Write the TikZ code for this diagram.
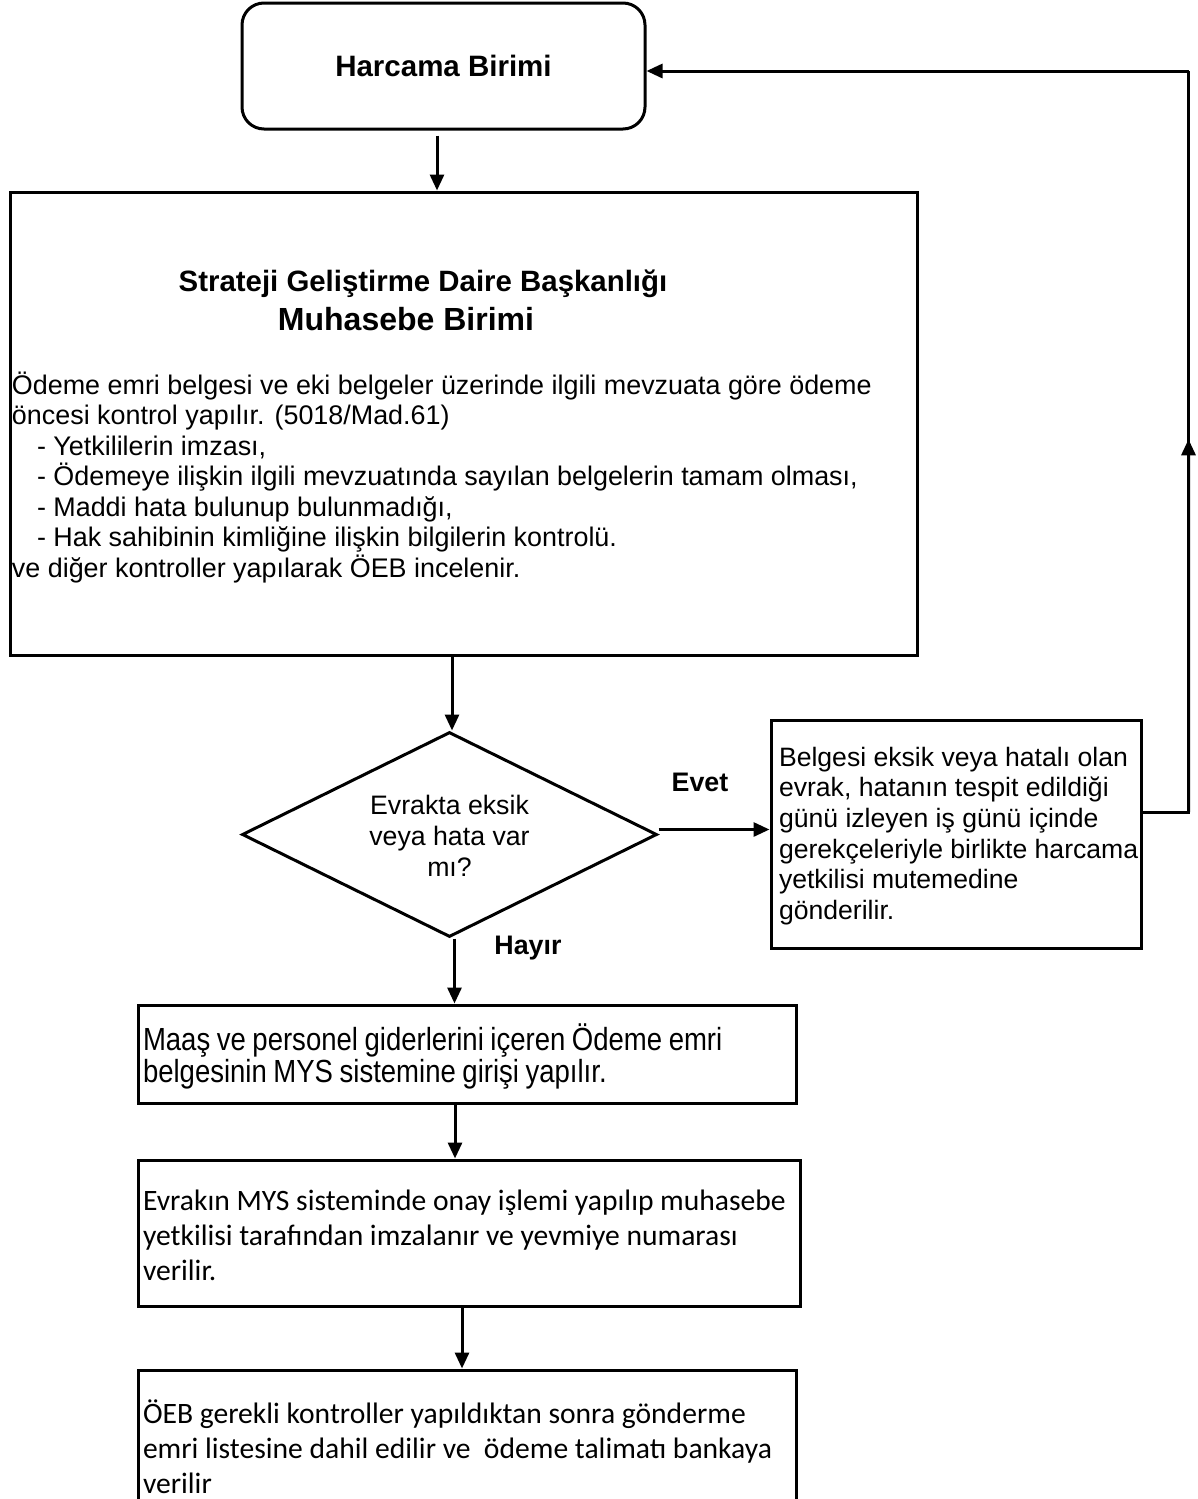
\documentclass[tikz,border=0pt]{standalone}
\usepackage{fontspec}
\setmainfont{Liberation Sans}
\newfontfamily\calibrifont{Carlito}
\newfontfamily\narrowfont{Liberation Sans}[FakeStretch=0.86, WordSpace=0.86]
\usetikzlibrary{shapes.geometric,arrows.meta,calc}
\begin{document}
\begin{tikzpicture}[x=1pt,y=-1pt,
  line width=3pt,
  arr/.style={-{Triangle[length=16pt,width=14pt]}},
  box/.style={draw, rectangle, inner sep=0pt},
  txt/.style={inner sep=0pt, anchor=west, align=left},
  bodyfont/.style={font=\fontsize{26.9}{30.5}\selectfont},
  calfont/.style={font=\calibrifont\fontsize{29.6}{35}\selectfont},
  lbl/.style={font=\bfseries\fontsize{26.8}{30}\selectfont, inner sep=0pt}
]
\useasboundingbox (0,0) rectangle (1197,1499);
\clip (0,0) rectangle (1197,1499);

% Harcama Birimi
\node[draw, rounded corners=22pt, minimum width=403pt, minimum height=126pt,
      font=\bfseries\fontsize{29.5}{34}\selectfont] (harc) at (443.5,66) {Harcama Birimi};

% main box
\node[box, minimum width=907pt, minimum height=463pt] (main) at (463.5,423.5) {};
\node[inner sep=0pt, font=\bfseries\fontsize{29.4}{34}\selectfont] (t1) at (423,284) {Strateji Geliştirme Daire Başkanlığı};
\node[inner sep=0pt, font=\bfseries\fontsize{32}{36}\selectfont] (t2) at (406,319) {Muhasebe Birimi};
\node[txt, bodyfont] (body) at ([xshift=2pt,yshift=-54pt]main.west) {%
Ödeme emri belgesi ve eki belgeler üzerinde ilgili mevzuata göre ödeme\\
öncesi kontrol yapılır. (5018/Mad.61)\\
\hspace*{25pt}- Yetkililerin imzası,\\
\hspace*{25pt}- Ödemeye ilişkin ilgili mevzuatında sayılan belgelerin tamam olması,\\
\hspace*{25pt}- Maddi hata bulunup bulunmadığı,\\
\hspace*{25pt}- Hak sahibinin kimliğine ilişkin bilgilerin kontrolü.\\
ve diğer kontroller yapılarak ÖEB incelenir.};

% decision
\node[draw, diamond, aspect=2, inner sep=0pt, minimum width=415pt, minimum height=205pt] (dia) at (449.5,834.5) {};
\node[inner sep=0pt, align=center, font=\fontsize{26.7}{31}\selectfont] (diat) at ([yshift=-1pt]dia.center)
      {Evrakta eksik\\veya hata var\\mı?};

% right box
\node[box, minimum width=370pt, minimum height=228pt] (rbox) at (956,834) {};
\node[txt, font=\fontsize{26.6}{30.6}\selectfont] (rboxt) at ([xshift=8pt,yshift=-2pt]rbox.west) {%
Belgesi eksik veya hatalı olan\\
evrak, hatanın tespit edildiği\\
günü izleyen iş günü içinde\\
gerekçeleriyle birlikte harcama\\
yetkilisi mutemedine\\
gönderilir.};

% box 3
\node[box, minimum width=658pt, minimum height=98pt] (b3) at (467,1054) {};
\node[txt, font=\narrowfont\fontsize{32}{32}\selectfont] (b3t) at ([xshift=5pt,yshift=-2pt]b3.west) {%
Maaş ve personel giderlerini içeren Ödeme emri\\
belgesinin MYS sistemine girişi yapılır.};

% box 4
\node[box, minimum width=662pt, minimum height=146pt] (b4) at (469,1233) {};
\node[txt, calfont] (b4t) at ([xshift=5pt,yshift=-2pt]b4.west) {%
Evrakın MYS sisteminde onay işlemi yapılıp muhasebe\\
yetkilisi tarafından imzalanır ve yevmiye numarası\\
verilir.};

% box 5
\node[box, minimum width=658pt, minimum height=146pt] (b5) at (467,1443) {};
\node[txt, calfont] (b5t) at ([xshift=5pt,yshift=-4pt]b5.west) {%
ÖEB gerekli kontroller yapıldıktan sonra gönderme\\
emri listesine dahil edilir ve\ \ ödeme talimatı bankaya\\
verilir};

% labels
\node[lbl] (evet) at (700,782) {Evet};
\node[lbl] (hayir) at (528,948) {Hayır};

% connectors
\coordinate (hin) at ([yshift=-5pt]harc.east);
\draw[arr] ([xshift=-6.5pt,yshift=-5pt]harc.south) coordinate (a1) -- (a1 |- main.north);
\draw[arr] ([xshift=2.5pt]dia.north |- main.south) coordinate (a0) -- (a0 |- dia.north);
\draw[arr] ([yshift=5pt]dia.east) coordinate (a2) -- (a2 -| rbox.west);
\draw ([yshift=22pt]rbox.east) -- ++(46,0) coordinate (c1) -- (c1 |- hin) coordinate (c2);
\draw[arr] (c2) -- (hin);
\draw[arr] (c1) -- ($(c1)!0.503!(c2)$);
\draw[arr] ([xshift=5pt]dia.south) coordinate (a5) -- (a5 |- b3.north);
\draw[arr] ([xshift=-12pt]b3.south) coordinate (a3) -- (a3 |- b4.north);
\draw[arr] ([xshift=-7pt]b4.south) coordinate (a4) -- (a4 |- b5.north);
\end{tikzpicture}
\end{document}
